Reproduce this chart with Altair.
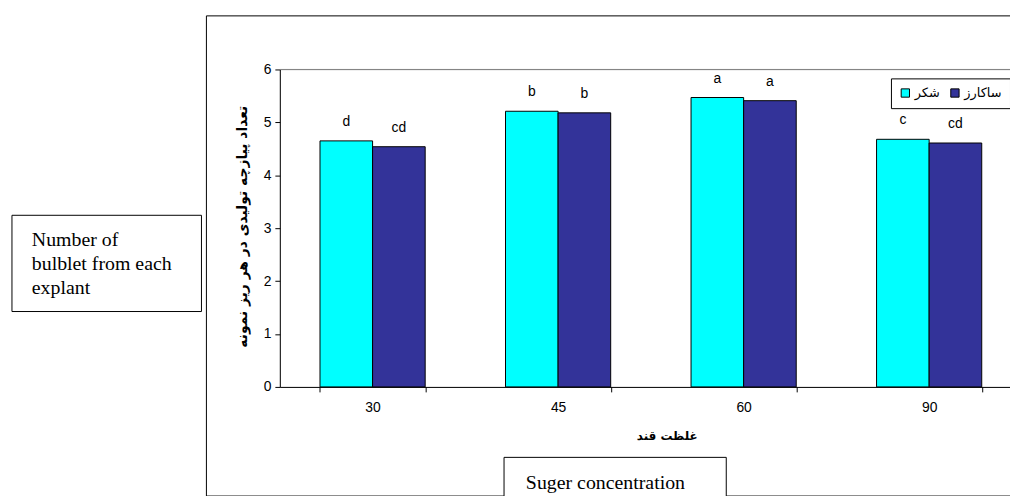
import altair as alt
import pandas as pd

categories = ["30", "45", "60", "90"]
series_names = ["شکر", "ساکارز"]
sugar_values = [4.65, 5.21, 5.47, 4.68]
sucrose_values = [4.54, 5.18, 5.41, 4.61]
sugar_letters = ["d", "b", "a", "c"]
sucrose_letters = ["cd", "b", "a", "cd"]
y_ticks = [0, 1, 2, 3, 4, 5, 6]

rows = []
for i, c in enumerate(categories):
    rows.append({"cat": c, "series": series_names[0], "value": sugar_values[i], "letter": sugar_letters[i]})
    rows.append({"cat": c, "series": series_names[1], "value": sucrose_values[i], "letter": sucrose_letters[i]})
df = pd.DataFrame(rows)

SANS = "Liberation Sans"
SERIF = "Liberation Serif"
FA = "DejaVu Sans"

xscale = alt.Scale(domain=categories, range=[0, 748], paddingInner=0.433, paddingOuter=0.2165)
yscale = alt.Scale(domain=[0, 6], nice=False, zero=True)
cscale = alt.Scale(domain=series_names, range=["#00FFFF", "#333399"])

base = alt.Chart(df)

bars = base.mark_bar(stroke="black", strokeWidth=1, opacity=1).encode(
    x=alt.X("cat:N", scale=xscale, sort=categories,
            axis=alt.Axis(title="غلظت قند", titleFont=FA, titleFontSize=12, titleFontWeight="bold",
                          titleColor="black", titleX=390, titleY=49, titleBaseline="middle",
                          labelAngle=0, labelFont=SANS, labelFontSize=14, labelColor="black",
                          labelPadding=9, tickBand="extent", tickSize=5, tickColor="black",
                          domainColor="black", grid=False)),
    xOffset=alt.XOffset("series:N", sort=series_names, scale=alt.Scale(domain=series_names, paddingInner=0, paddingOuter=0)),
    y=alt.Y("value:Q", scale=yscale,
            axis=alt.Axis(values=y_ticks, title="تعداد پیازچه تولیدی در هر ریز نمونه", titleFont=FA,
                          titleFontSize=14, titleFontWeight="bold", titleColor="black",
                          titleX=-38, titleY=158, titleAngle=270, titleBaseline="middle",
                          labelFont=SANS, labelFontSize=14, labelColor="black", labelPadding=4,
                          tickSize=5, tickColor="black", domainColor="black", grid=False)),
    color=alt.Color("series:N", scale=cscale, sort=series_names,
                    legend=alt.Legend(orient="none", legendX=616, legendY=9, direction="horizontal",
                                      title=None, symbolType="square", symbolSize=70,
                                      symbolStrokeColor="black", symbolStrokeWidth=1,
                                      fillColor="white", strokeColor="black", padding=8,
                                      labelFont=FA, labelFontSize=13, labelColor="black",
                                      columnPadding=8, labelOffset=3)),
)

labels = base.mark_text(font=SANS, fontSize=14, color="black", baseline="middle", dy=-19).encode(
    x=alt.X("cat:N", scale=xscale, sort=categories),
    xOffset=alt.XOffset("series:N", sort=series_names),
    y=alt.Y("value:Q", scale=yscale),
    text="letter:N",
)

one = alt.Data(values=[{}])

outer = alt.Chart(one).mark_rect(fill=None, stroke="black", strokeWidth=1).encode(
    x=alt.value(-74), x2=alt.value(900), y=alt.value(-54), y2=alt.value(430))

top_line = alt.Chart(one).mark_rule(color="#808080", strokeWidth=1).encode(
    x=alt.value(0), x2=alt.value(748), y=alt.value(0))

left_box = alt.Chart(one).mark_rect(fill="white", stroke="black", strokeWidth=1).encode(
    x=alt.value(-270), x2=alt.value(-79), y=alt.value(147), y2=alt.value(244))

left_lines = ["Number of", "bulblet from each", "explant"]
left_y = [172, 196, 220]
left_layers = [
    alt.Chart(one).mark_text(font=SERIF, fontSize=20, color="black", align="left",
                             baseline="middle", text=t).encode(x=alt.value(-250), y=alt.value(yy))
    for t, yy in zip(left_lines, left_y)
]

bottom_box = alt.Chart(one).mark_rect(fill="white", stroke="black", strokeWidth=1).encode(
    x=alt.value(226), x2=alt.value(450), y=alt.value(391), y2=alt.value(460))

bottom_text = alt.Chart(one).mark_text(
    font=SERIF, fontSize=20, color="black", align="left", baseline="middle", text="Suger concentration"
).encode(x=alt.value(248), y=alt.value(417))

chart = alt.layer(outer, top_line, bars, labels, left_box, *left_layers, bottom_box, bottom_text).properties(
    width=736, height=320,
    autosize=alt.AutoSizeParams(type="none"),
    padding={"left": 274, "top": 60, "right": 0, "bottom": 108},
).configure_view(stroke=None).configure(background="white")

chart.save("out.html", embed_options={"renderer": "svg", "actions": False})
